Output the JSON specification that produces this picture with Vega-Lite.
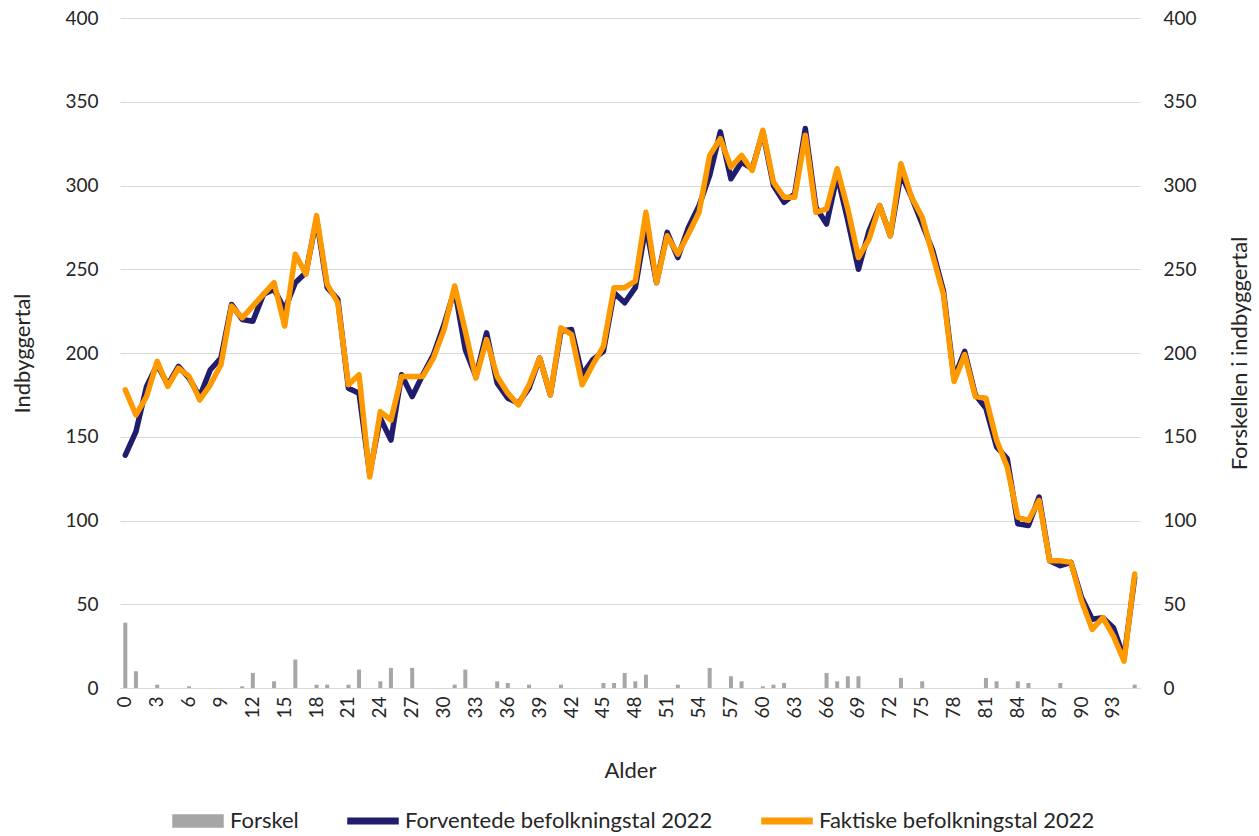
{
  "$schema": "https://vega.github.io/schema/vega-lite/v6.json",
  "width": 1020,
  "height": 670,
  "autosize": {"type": "none"},
  "padding": {"left": 120, "top": 18, "right": 119, "bottom": 148},
  "config": {
    "font": "Lato",
    "view": {"stroke": null},
    "axis": {"labelFont": "Lato", "titleFont": "Lato", "labelFontSize": 19, "titleFontSize": 22, "labelColor": "#262626", "titleColor": "#262626", "titleFontWeight": "normal", "ticks": false}
  },
  "data": {"values": [
    {"age":0,"fakt":178,"forv":139},{"age":1,"fakt":163,"forv":153},{"age":2,"fakt":174,"forv":180},{"age":3,"fakt":195,"forv":193},
    {"age":4,"fakt":180,"forv":181},{"age":5,"fakt":191,"forv":192},{"age":6,"fakt":186,"forv":185},{"age":7,"fakt":172,"forv":174},
    {"age":8,"fakt":181,"forv":190},{"age":9,"fakt":193,"forv":197},{"age":10,"fakt":228,"forv":229},{"age":11,"fakt":221,"forv":220},
    {"age":12,"fakt":228,"forv":219},{"age":13,"fakt":235,"forv":235},{"age":14,"fakt":242,"forv":238},{"age":15,"fakt":216,"forv":226},
    {"age":16,"fakt":259,"forv":242},{"age":17,"fakt":247,"forv":248},{"age":18,"fakt":282,"forv":280},{"age":19,"fakt":241,"forv":239},
    {"age":20,"fakt":230,"forv":232},{"age":21,"fakt":181,"forv":179},{"age":22,"fakt":187,"forv":176},{"age":23,"fakt":126,"forv":128},
    {"age":24,"fakt":165,"forv":161},{"age":25,"fakt":160,"forv":148},{"age":26,"fakt":186,"forv":187},{"age":27,"fakt":186,"forv":174},
    {"age":28,"fakt":186,"forv":187},{"age":29,"fakt":197,"forv":199},{"age":30,"fakt":214,"forv":217},{"age":31,"fakt":240,"forv":238},
    {"age":32,"fakt":213,"forv":202},{"age":33,"fakt":185,"forv":186},{"age":34,"fakt":208,"forv":212},{"age":35,"fakt":186,"forv":182},
    {"age":36,"fakt":176,"forv":173},{"age":37,"fakt":169,"forv":170},{"age":38,"fakt":181,"forv":179},{"age":39,"fakt":197,"forv":197},
    {"age":40,"fakt":175,"forv":175},{"age":41,"fakt":215,"forv":213},{"age":42,"fakt":211,"forv":214},{"age":43,"fakt":181,"forv":187},
    {"age":44,"fakt":193,"forv":196},{"age":45,"fakt":204,"forv":201},{"age":46,"fakt":239,"forv":236},{"age":47,"fakt":239,"forv":230},
    {"age":48,"fakt":243,"forv":239},{"age":49,"fakt":284,"forv":276},{"age":50,"fakt":242,"forv":242},{"age":51,"fakt":270,"forv":272},
    {"age":52,"fakt":259,"forv":257},{"age":53,"fakt":271,"forv":275},{"age":54,"fakt":284,"forv":288},{"age":55,"fakt":318,"forv":306},
    {"age":56,"fakt":328,"forv":332},{"age":57,"fakt":311,"forv":304},{"age":58,"fakt":318,"forv":314},{"age":59,"fakt":309,"forv":310},
    {"age":60,"fakt":333,"forv":332},{"age":61,"fakt":302,"forv":300},{"age":62,"fakt":293,"forv":290},{"age":63,"fakt":293,"forv":295},
    {"age":64,"fakt":330,"forv":334},{"age":65,"fakt":284,"forv":287},{"age":66,"fakt":286,"forv":277},{"age":67,"fakt":310,"forv":306},
    {"age":68,"fakt":286,"forv":279},{"age":69,"fakt":257,"forv":250},{"age":70,"fakt":268,"forv":273},{"age":71,"fakt":288,"forv":288},
    {"age":72,"fakt":270,"forv":270},{"age":73,"fakt":313,"forv":307},{"age":74,"fakt":293,"forv":293},{"age":75,"fakt":281,"forv":277},
    {"age":76,"fakt":258,"forv":261},{"age":77,"fakt":235,"forv":237},{"age":78,"fakt":183,"forv":185},{"age":79,"fakt":199,"forv":201},
    {"age":80,"fakt":174,"forv":175},{"age":81,"fakt":173,"forv":167},{"age":82,"fakt":148,"forv":144},{"age":83,"fakt":132,"forv":137},
    {"age":84,"fakt":102,"forv":98},{"age":85,"fakt":100,"forv":97},{"age":86,"fakt":112,"forv":114},{"age":87,"fakt":76,"forv":76},
    {"age":88,"fakt":76,"forv":73},{"age":89,"fakt":75,"forv":75},{"age":90,"fakt":52,"forv":54},{"age":91,"fakt":35,"forv":41},
    {"age":92,"fakt":42,"forv":42},{"age":93,"fakt":31,"forv":36},{"age":94,"fakt":16,"forv":18},{"age":95,"fakt":68,"forv":66}
  ]},
  "transform": [{"calculate": "datum.fakt - datum.forv", "as": "Forskel"}],
  "encoding": {
    "x": {
      "field": "age", "type": "ordinal",
      "scale": {"type": "band", "paddingInner": 0, "paddingOuter": 0},
      "axis": {
        "values": [0,3,6,9,12,15,18,21,24,27,30,33,36,39,42,45,48,51,54,57,60,63,66,69,72,75,78,81,84,87,90,93],
        "labelAngle": 270, "labelAlign": "right", "labelBaseline": "middle", "labelPadding": 8,
        "domainColor": "#D9D9D9", "domainWidth": 1, "grid": false,
        "title": "Alder", "titlePadding": 42
      }
    }
  },
  "layer": [
    {
      "mark": {"type": "bar", "width": 4, "clip": true},
      "encoding": {
        "y": {
          "field": "Forskel", "type": "quantitative",
          "scale": {"domain": [0, 400], "nice": false, "zero": true},
          "axis": {"orient": "right", "values": [0,50,100,150,200,250,300,350,400], "grid": false, "domain": false, "labelPadding": 23, "title": "Forskellen i indbyggertal", "titleAngle": 270, "titleBaseline": "top", "titlePadding": 33}
        },
        "color": {
          "datum": "Forskel",
          "scale": {"domain": ["Forskel", "Forventede befolkningstal 2022", "Faktiske befolkningstal 2022"], "range": ["#A6A6A6", "#201C6E", "#FF9900"]},
          "legend": {
            "orient": "none", "legendX": 52, "legendY": 777, "direction": "horizontal", "title": null,
            "symbolSize": 2500, "labelFontSize": 22, "labelFont": "Lato", "labelColor": "#262626", "labelLimit": 500,
            "labelOffset": 6, "columnPadding": 46,
            "encode": {
              "symbols": {
                "update": {
                  "shape": {"signal": "datum.value === 'Forskel' ? 'M-1,-0.24H1V0.24H-1Z' : 'M-1,-0.11H1V0.11H-1Z'"},
                  "fill": {"signal": "datum.value === 'Forskel' ? '#A6A6A6' : (datum.value === 'Forventede befolkningstal 2022' ? '#201C6E' : '#FF9900')"},
                  "stroke": {"value": "transparent"},
                  "opacity": {"value": 1},
                  "fillOpacity": {"value": 1}
                }
              }
            }
          }
        }
      }
    },
    {
      "layer": [
        {
          "mark": {"type": "line", "strokeWidth": 5.5, "strokeJoin": "round", "strokeCap": "round"},
          "encoding": {
            "y": {
              "field": "forv", "type": "quantitative",
              "scale": {"domain": [0, 400], "nice": false},
              "axis": {"orient": "left", "values": [0,50,100,150,200,250,300,350,400], "grid": true, "gridColor": "#D9D9D9", "gridWidth": 1, "domain": false, "labelPadding": 22, "title": "Indbyggertal", "titlePadding": 30}
            },
            "color": {"datum": "Forventede befolkningstal 2022"}
          }
        },
        {
          "mark": {"type": "line", "strokeWidth": 5.5, "strokeJoin": "round", "strokeCap": "round"},
          "encoding": {
            "y": {"field": "fakt", "type": "quantitative"},
            "color": {"datum": "Faktiske befolkningstal 2022"}
          }
        }
      ]
    }
  ],
  "resolve": {"scale": {"y": "independent"}}
}
